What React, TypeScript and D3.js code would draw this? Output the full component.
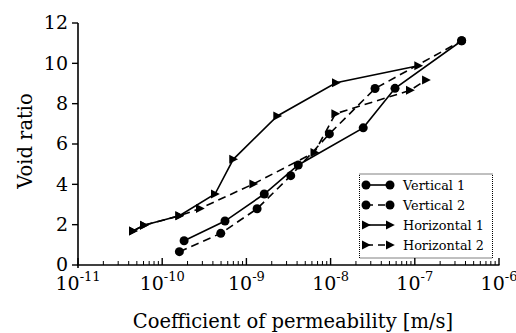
import React from "react";
import * as d3 from "d3";

const vertical1K = [1.82e-10, 5.57e-10, 1.63e-9, 4.13e-9, 2.44e-8, 5.82e-8, 3.6e-7];
const vertical1E = [1.2, 2.18, 3.52, 4.96, 6.8, 8.76, 11.12];
const vertical2K = [1.6e-10, 4.96e-10, 1.34e-9, 3.36e-9, 9.67e-9, 3.37e-8, 3.6e-7];
const vertical2E = [0.66, 1.57, 2.79, 4.43, 6.5, 8.75, 11.12];
const horizontal1K = [4.5e-11, 6.08e-11, 1.6e-10, 4.24e-10, 6.98e-10, 2.33e-9, 1.16e-8, 1.1e-7];
const horizontal1E = [1.69, 1.97, 2.44, 3.52, 5.24, 7.39, 9.04, 9.88];
const horizontal2K = [4.5e-11, 6.08e-11, 1.6e-10, 2.81e-10, 1.21e-9, 6.44e-9, 1.14e-8, 8.77e-8, 1.36e-7];
const horizontal2E = [1.69, 1.97, 2.44, 2.8, 4.02, 5.58, 7.5, 8.66, 9.17];

const seriesNames = ["Vertical 1", "Vertical 2", "Horizontal 1", "Horizontal 2"];
const xTickExps = [-11, -10, -9, -8, -7, -6];
const yTicks = [0, 2, 4, 6, 8, 10, 12];

const FONT = "'DejaVu Serif', serif";

export default function App() {
  const x = d3.scaleLog().domain([1e-11, 1e-6]).range([78, 499]);
  const y = d3.scaleLinear().domain([0, 12]).range([265, 23]);

  const series = [
    { name: seriesNames[0], k: vertical1K, e: vertical1E, dash: null, marker: "circle" },
    { name: seriesNames[1], k: vertical2K, e: vertical2E, dash: "8,5", marker: "circle" },
    { name: seriesNames[2], k: horizontal1K, e: horizontal1E, dash: null, marker: "tri" },
    { name: seriesNames[3], k: horizontal2K, e: horizontal2E, dash: "8,5", marker: "tri" },
  ];

  const line = d3.line<[number, number]>().x((d) => x(d[0])).y((d) => y(d[1]));

  const minorTicks: number[] = [];
  for (let p = -11; p < -6; p++) {
    for (let m = 2; m <= 9; m++) minorTicks.push(m * Math.pow(10, p));
  }

  const marker = (type: string, cx: number, cy: number, key: any) =>
    type === "circle" ? (
      <circle key={key} cx={cx} cy={cy} r={4.5} fill="#000" />
    ) : (
      <path key={key} d={`M${cx - 4},${cy - 4.5}L${cx + 4.8},${cy}L${cx - 4},${cy + 4.5}Z`} fill="#000" />
    );

  const legX = 359.5, legY = 174, legW = 133, legH = 84;

  return (
    <svg width={516} height={333} style={{ position: "absolute", left: 0, top: 0, background: "#fff" }} fontFamily={FONT}>
      <rect width={516} height={333} fill="#fff" />
      {/* axes */}
      <line x1={78} x2={78} y1={y(12)} y2={268} stroke="#000" strokeWidth={1.6} />
      <line x1={77} x2={499.5} y1={265} y2={265} stroke="#000" strokeWidth={1.6} />
      {yTicks.map((t) => (
        <g key={"yt" + t}>
          <line x1={72} x2={78} y1={y(t)} y2={y(t)} stroke="#000" strokeWidth={1.4} />
          <text x={68} y={y(t)} dy="0.34em" textAnchor="end" fontSize={19}>{t}</text>
        </g>
      ))}
      {xTickExps.map((p) => (
        <g key={"xt" + p}>
          <line x1={x(Math.pow(10, p))} x2={x(Math.pow(10, p))} y1={265} y2={258} stroke="#000" strokeWidth={1.4} />
          <text x={x(Math.pow(10, p))} y={290} textAnchor="middle" fontSize={19}>
            10<tspan fontSize={13} dy={-9}>{p}</tspan>
          </text>
        </g>
      ))}
      {minorTicks.map((t, i) => (
        <line key={"mt" + i} x1={x(t)} x2={x(t)} y1={265} y2={261} stroke="#000" strokeWidth={1} />
      ))}
      <text x={293} y={328} textAnchor="middle" fontSize={19.5}>Coefficient of permeability [m/s]</text>
      <text transform={`translate(32,${141}) rotate(-90)`} textAnchor="middle" fontSize={19.5}>Void ratio</text>

      {/* series */}
      {series.map((s, si) => {
        const pts: [number, number][] = s.k.map((k, i) => [k, s.e[i]]);
        return (
          <g key={"s" + si}>
            <path d={line(pts) || ""} fill="none" stroke="#000" strokeWidth={1.6} strokeDasharray={s.dash || undefined} />
            {pts.map((p, i) => marker(s.marker, x(p[0]), y(p[1]), i))}
          </g>
        );
      })}

      {/* legend */}
      <rect x={legX} y={legY} width={legW} height={legH} fill="#fff" stroke="#000" strokeWidth={1} strokeDasharray="1,1" />
      {series.map((s, i) => {
        const ly = 185 + i * 20;
        return (
          <g key={"lg" + i}>
            <line x1={366} x2={390} y1={ly} y2={ly} stroke="#000" strokeWidth={1.6} strokeDasharray={s.dash ? "7,5" : undefined} />
            {marker(s.marker, 366, ly, "a")}
            {marker(s.marker, 390, ly, "b")}
            <text x={403} y={ly} dy="0.36em" fontSize={12.8}>{s.name}</text>
          </g>
        );
      })}
    </svg>
  );
}
